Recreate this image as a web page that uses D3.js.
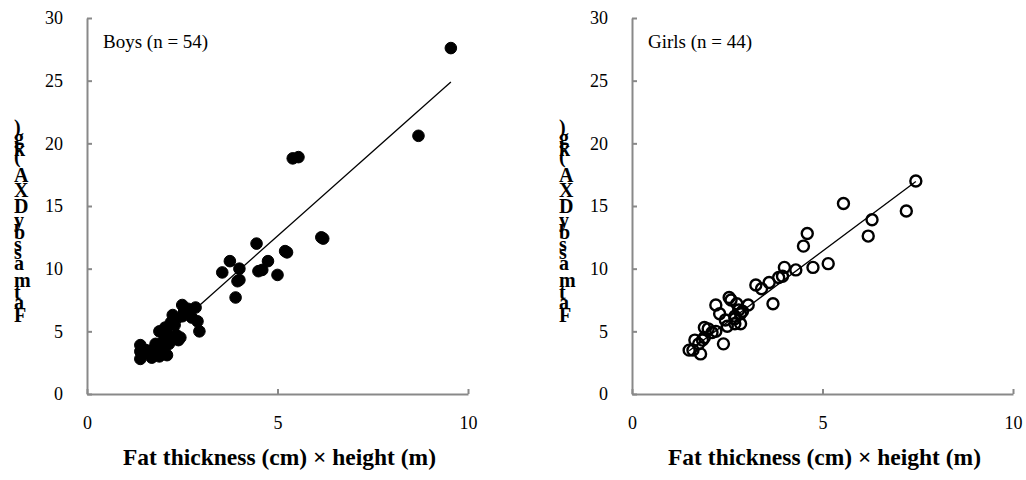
<!DOCTYPE html>
<html>
<head>
<meta charset="utf-8">
<script src="https://cdn.jsdelivr.net/npm/d3@7"></script>
<style>
  body { margin: 0; background: #fff; }
  svg text { font-family: "Liberation Serif", "Times New Roman", serif; fill: #000; }
  .axis path, .axis line { stroke: #898989; stroke-width: 2; }
  .axis text { font-size: 18px; }
</style>
</head>
<body>
<svg id="chart" width="1026" height="480"></svg>
<script>
// values
const xTicks = [0, 5, 10];
const yTicks = [0, 5, 10, 15, 20, 25, 30];

const boysX = [9.55, 8.7, 5.4, 5.55, 6.15, 6.2, 5.2, 5.25, 5.0, 4.45, 4.5, 4.6, 4.75, 4.0, 4.0, 3.95, 3.9, 3.75, 3.55,
  1.4, 1.4, 1.4, 1.55, 1.65, 1.7, 1.75, 1.8, 1.85, 1.9, 1.95, 2.0, 2.0, 1.9, 2.05, 2.1, 2.1, 2.2, 2.2, 2.25,
  2.3, 2.35, 2.4, 2.45, 2.5, 2.5, 2.55, 2.65, 2.75, 2.85, 2.9, 2.95, 1.8, 2.15, 2.3];
const boysY = [27.6, 20.6, 18.8, 18.9, 12.5, 12.4, 11.4, 11.3, 9.5, 12.0, 9.8, 9.9, 10.6, 10.0, 9.1, 9.0, 7.7, 10.6, 9.7,
  3.9, 3.4, 2.8, 3.5, 3.2, 2.9, 3.6, 4.0, 3.8, 3.0, 3.2, 3.5, 4.2, 5.0, 5.3, 4.8, 3.1, 5.7, 4.4, 6.3,
  6.0, 4.7, 4.3, 4.5, 6.2, 7.1, 6.6, 6.8, 6.1, 6.9, 5.8, 5.0, 3.5, 4.0, 5.5];
const boysLine = [[1.4, 2.88], [9.55, 24.9]];

const girlsX = [7.45, 7.2, 6.3, 6.2, 5.55, 5.15, 4.75, 4.6, 4.5, 4.3, 4.0, 3.95, 3.85, 3.6, 3.7, 3.4, 3.25, 3.05,
  2.85, 2.8, 2.7, 2.7, 2.85, 2.6, 2.75, 2.55, 2.5, 2.4, 2.3, 2.2, 2.2, 2.0, 1.9, 1.85, 1.75, 1.65, 1.6, 1.5,
  1.8, 1.9, 2.1, 2.7, 2.9, 2.45];
const girlsY = [17.0, 14.6, 13.9, 12.6, 15.2, 10.4, 10.1, 12.8, 11.8, 9.9, 10.1, 9.4, 9.3, 8.9, 7.2, 8.4, 8.7, 7.1,
  6.4, 6.7, 6.2, 5.6, 5.6, 7.5, 7.2, 7.7, 5.4, 4.0, 6.4, 7.1, 5.0, 5.2, 5.3, 4.3, 4.0, 4.3, 3.5, 3.5,
  3.2, 4.5, 4.9, 6.0, 6.6, 5.9];
const girlsLine = [[1.5, 3.45], [7.45, 16.96]];

const yTitle = "Fat mass by DXA (kg)";
const xTitle = "Fat thickness (cm) \u00d7 height (m)";

const panels = [
  { label: "Boys (n = 54)", xs: boysX, ys: boysY, line: boysLine, filled: true, left: 87 },
  { label: "Girls (n = 44)", xs: girlsX, ys: girlsY, line: girlsLine, filled: false, left: 632 }
];

const svg = d3.select("#chart");
const plotW = 381, plotTop = 18, plotBottom = 394;

panels.forEach(p => {
  const x = d3.scaleLinear().domain([0, 10]).range([p.left, p.left + plotW]);
  const y = d3.scaleLinear().domain([0, 30]).range([plotBottom, plotTop]);
  const g = svg.append("g");

  g.append("g")
    .attr("class", "axis")
    .attr("transform", `translate(0,${plotBottom})`)
    .call(d3.axisBottom(x).tickValues(xTicks).tickSizeInner(-5).tickSizeOuter(0).tickPadding(22))
    .call(a => a.selectAll("text").attr("font-family", null).attr("font-size", null));

  g.append("g")
    .attr("class", "axis")
    .attr("transform", `translate(${p.left},0)`)
    .call(d3.axisLeft(y).tickValues(yTicks).tickSizeInner(-5).tickSizeOuter(0).tickPadding(24))
    .call(a => a.selectAll("text").attr("font-family", null).attr("font-size", null));

  // regression line
  g.append("line")
    .attr("x1", x(p.line[0][0])).attr("y1", y(p.line[0][1]))
    .attr("x2", x(p.line[1][0])).attr("y2", y(p.line[1][1]))
    .attr("stroke", "#000").attr("stroke-width", 1.3);

  const pts = p.xs.map((v, i) => ({ x: v, y: p.ys[i] }));
  g.append("g").selectAll("circle")
    .data(pts)
    .join("circle")
    .attr("cx", d => x(d.x))
    .attr("cy", d => y(d.y))
    .attr("r", p.filled ? 5.8 : 5.5)
    .attr("fill", p.filled ? "#000" : "none")
    .attr("stroke", "#000")
    .attr("stroke-width", p.filled ? 1 : 2.4);

  g.append("text")
    .attr("x", p.left + 16).attr("y", 48)
    .attr("font-size", 19)
    .text(p.label);

  g.append("text")
    .attr("x", p.left + plotW / 2 + 2).attr("y", 465)
    .attr("text-anchor", "middle")
    .attr("font-size", 23.5).attr("font-weight", "bold")
    .text(xTitle);

  // y title: upright letters stacked from bottom to top
  const yt = g.append("text")
    .attr("font-size", 20).attr("font-weight", "bold");
  let pos = 322;
  for (const ch of yTitle) {
    const t = yt.append("tspan").attr("x", p.left - 73).attr("y", pos).text(ch);
    const w = ch === " " ? 4 : t.node().getComputedTextLength();
    pos -= w * 1.05;
  }
});
</script>
</body>
</html>
